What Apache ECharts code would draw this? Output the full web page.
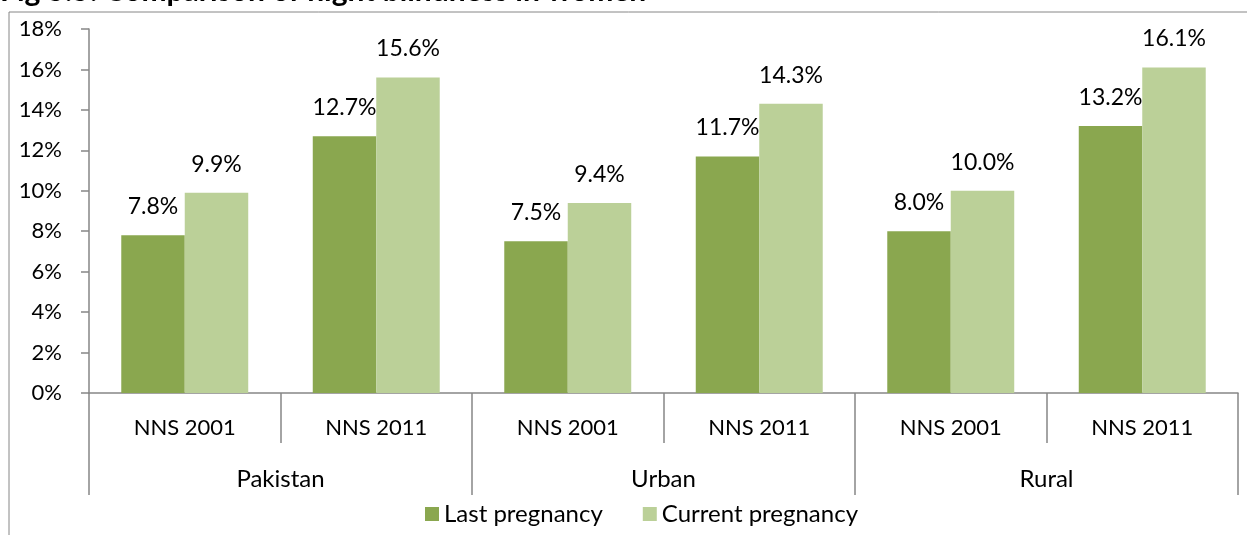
<!DOCTYPE html>
<html>
<head>
<meta charset="utf-8">
<script src="https://cdn.jsdelivr.net/npm/echarts@6/dist/echarts.min.js"></script>
<style>
    html, body { margin: 0; padding: 0; background: #fff; }
    #chart { width: 1247px; height: 535px; }
</style>
</head>
<body>
<div id="chart"></div>
<script>
// survey rounds (inner axis) and regions (outer axis)
const surveys = ['NNS 2001', 'NNS 2011', 'NNS 2001', 'NNS 2011', 'NNS 2001', 'NNS 2011']
const regions = ['Pakistan', 'Urban', 'Rural']
const lastPregnancy = [7.8, 12.7, 7.5, 11.7, 8.0, 13.2]
const currentPregnancy = [9.9, 15.6, 9.4, 14.3, 10.0, 16.1]
const titleText = 'Fig 5.5: Comparison of night blindness in women'

const font = 'Lato, "Open Sans", sans-serif'
const axisGrey = '#868686'

const chart = echarts.init(document.getElementById('chart'))

const barLabel = {
    show: true,
    position: 'top',
    distance: 17,
    color: '#000',
    fontFamily: font,
    fontSize: 23,
    formatter: p => p.value.toFixed(1) + '%'
}

const option = {
    animation: false,
    textStyle: { fontFamily: font },
    graphic: [
        {
            type: 'rect',
            shape: { x: 9, y: 12, width: 1300, height: 600 },
            style: { fill: 'none', stroke: axisGrey, lineWidth: 1 },
            silent: true
        },
        {
            type: 'text',
            left: 0,
            top: -24,
            style: {
                text: titleText,
                font: 'bold 30px ' + font,
                fill: '#000'
            }
        }
    ],
    legend: {
        left: 420,
        top: 497,
        icon: 'rect',
        itemWidth: 14,
        itemHeight: 14,
        itemGap: 40,
        textStyle: { fontFamily: font, fontSize: 24, color: '#000' },
        data: ['Last pregnancy', 'Current pregnancy']
    },
    grid: {
        left: 89,
        right: 9,
        top: 29,
        bottom: 142,
        containLabel: false
    },
    xAxis: [
        {
            type: 'category',
            data: surveys,
            position: 'bottom',
            axisLine: { show: true, lineStyle: { color: axisGrey, width: 1.5 } },
            axisTick: { show: true, interval: 0, length: 50, lineStyle: { color: axisGrey, width: 1.5 } },
            axisLabel: { interval: 0, margin: 24, color: '#000', fontSize: 22, fontFamily: font }
        },
        {
            type: 'category',
            data: regions,
            position: 'bottom',
            axisLine: { show: false },
            axisTick: { show: true, interval: 0, length: 102, lineStyle: { color: axisGrey, width: 1.5 } },
            axisLabel: { interval: 0, margin: 74, color: '#000', fontSize: 24, fontFamily: font }
        }
    ],
    yAxis: {
        type: 'value',
        min: 0,
        max: 18,
        interval: 2,
        axisLine: { show: true, lineStyle: { color: axisGrey, width: 1.5 } },
        axisTick: { show: true, length: 8, lineStyle: { color: axisGrey, width: 1.5 } },
        splitLine: { show: false },
        axisLabel: { formatter: '{value}%', margin: 27, color: '#000', fontSize: 22, fontFamily: font }
    },
    series: [
        {
            name: 'Last pregnancy',
            type: 'bar',
            xAxisIndex: 0,
            data: lastPregnancy,
            barGap: '0%',
            barCategoryGap: '33.7%',
            itemStyle: { color: '#8aa74f' },
            label: barLabel
        },
        {
            name: 'Current pregnancy',
            type: 'bar',
            xAxisIndex: 0,
            data: currentPregnancy,
            barGap: '0%',
            barCategoryGap: '33.7%',
            itemStyle: { color: '#bbd098' },
            label: barLabel
        }
    ]
}

chart.setOption(option)
window.addEventListener('resize', () => chart.resize())
</script>
</body>
</html>
